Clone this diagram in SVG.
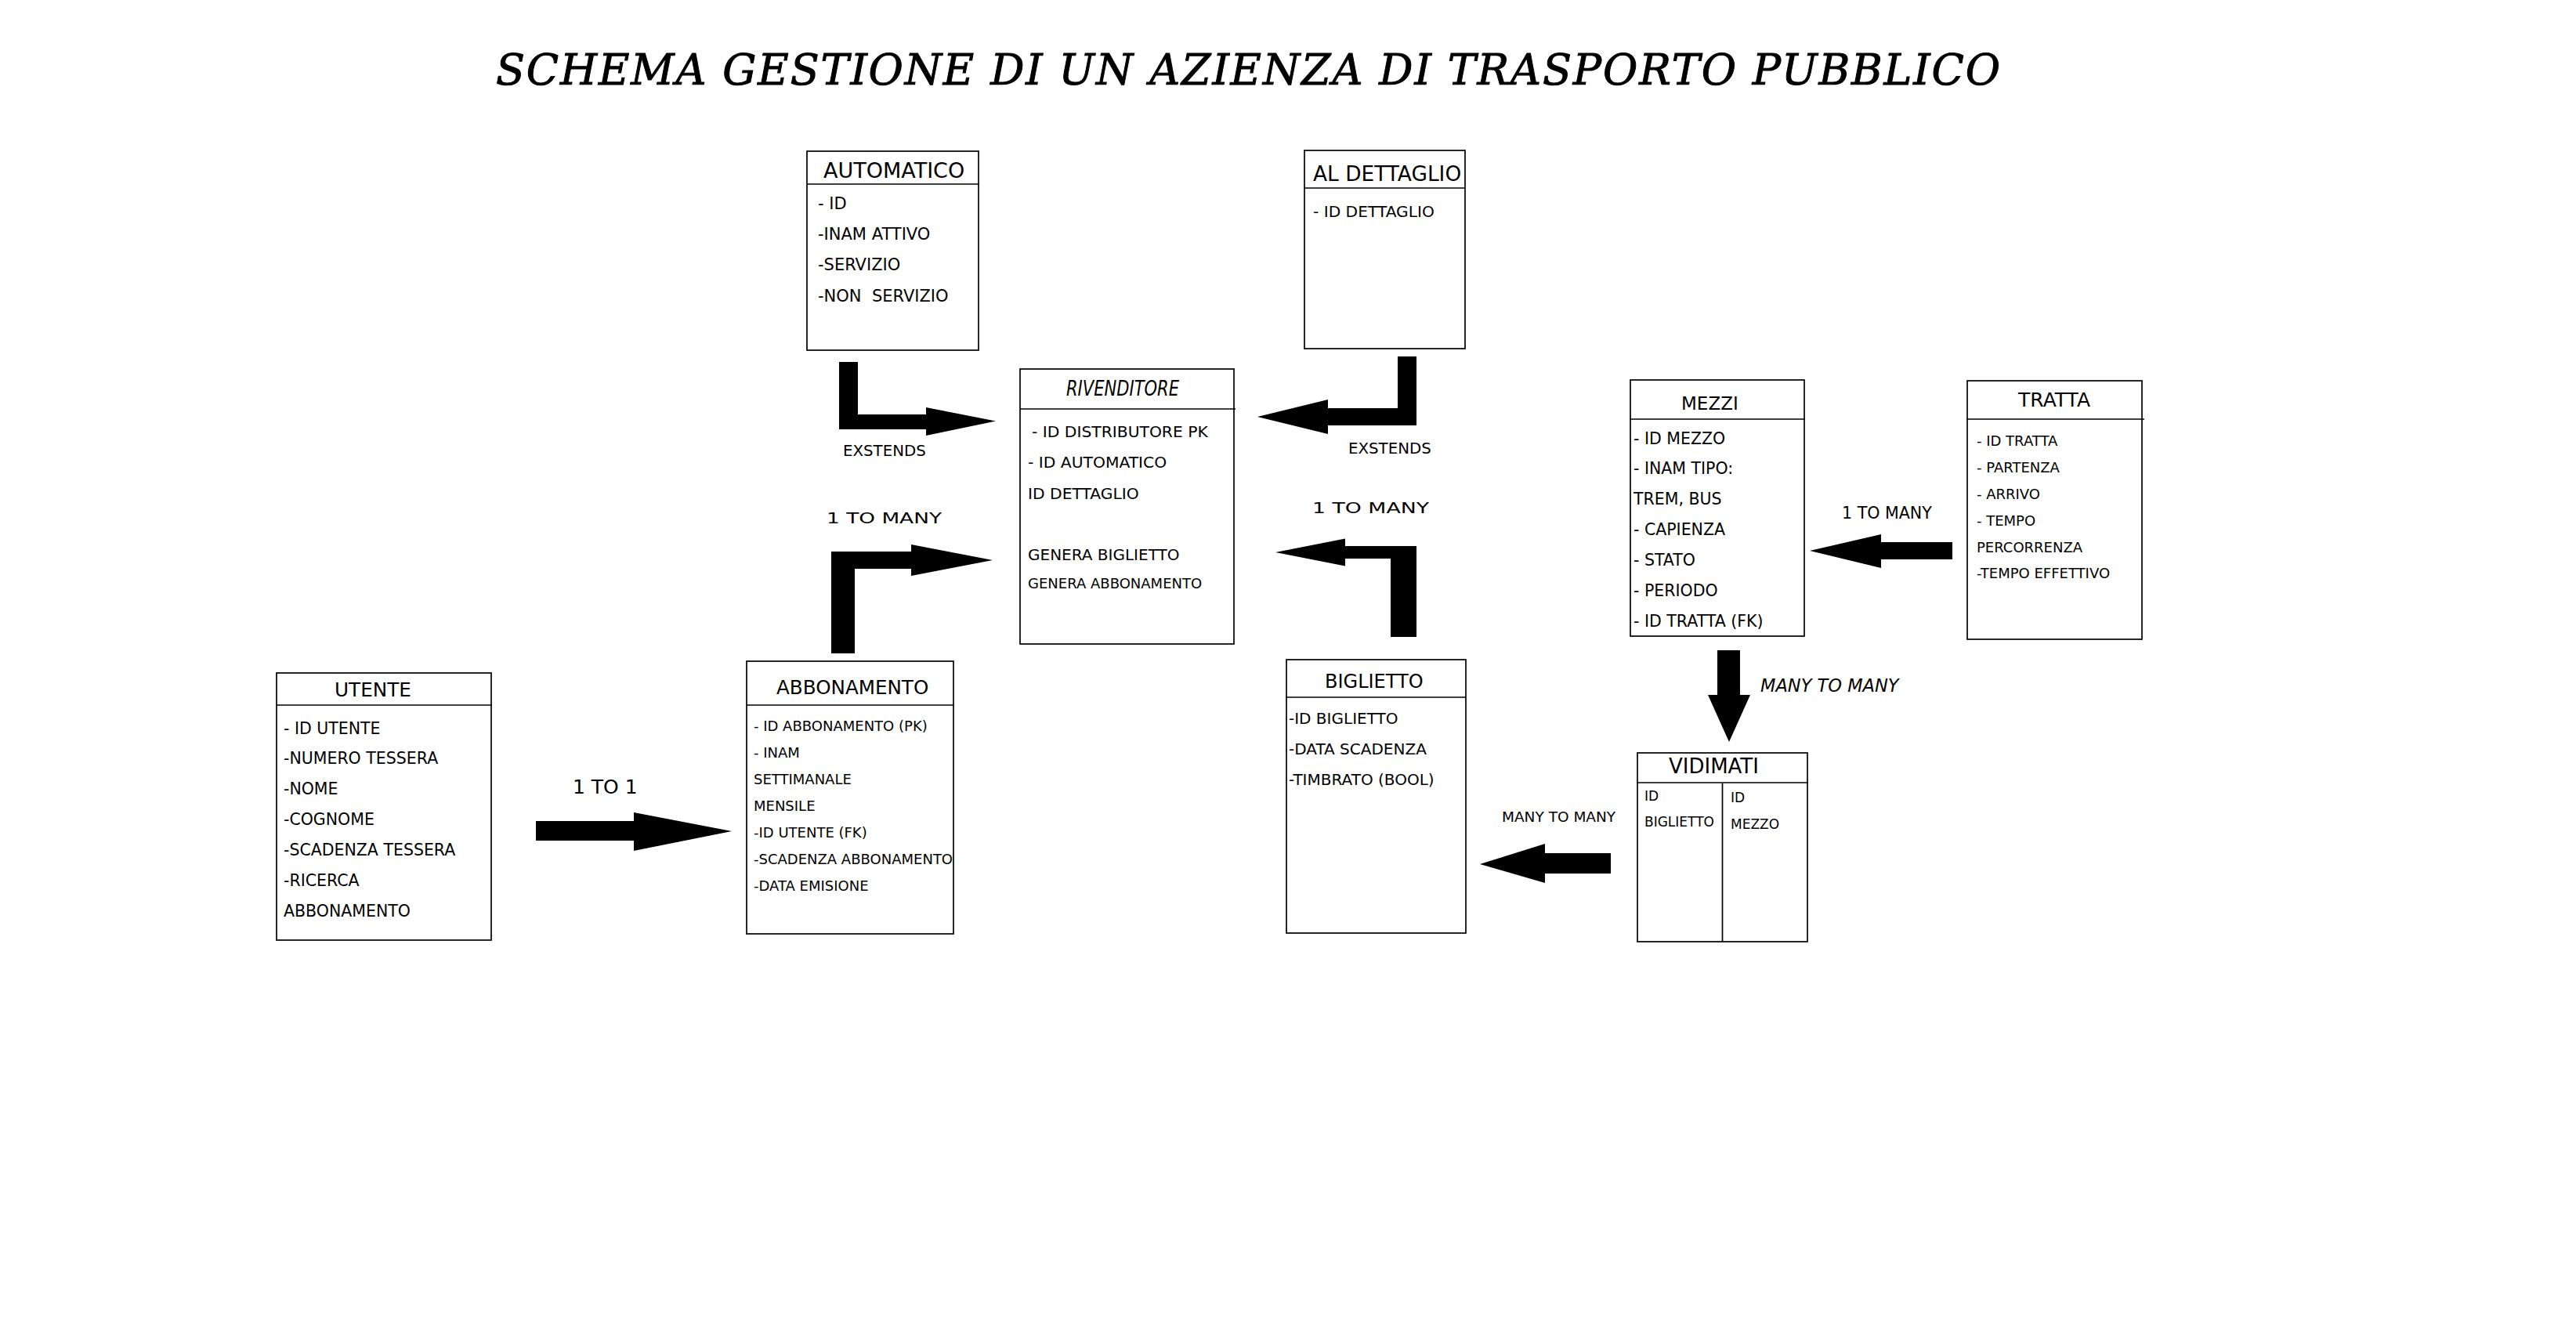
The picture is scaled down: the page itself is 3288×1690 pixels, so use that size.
<svg xmlns="http://www.w3.org/2000/svg" width="3288" height="1690" viewBox="0 0 3288 1690">
<style>
.box{fill:#fff;stroke:#000;stroke-width:1.7}
.ln{stroke:#000;stroke-width:1.7;fill:none}
.t{font-family:"DejaVu Sans","Noto Sans",sans-serif;fill:#000;white-space:pre}
.i{font-size:20.5px}
.s{font-size:18px}
.arr{fill:#000;stroke:none}
.wide{font-family:"DejaVu Sans","Noto Sans",sans-serif;font-size:19px;fill:#000}
</style>
<rect width="3288" height="1690" fill="#fff"/>
<text x="633" y="108" font-family="DejaVu Serif, 'Liberation Serif', serif" font-style="italic" font-size="54" textLength="1920" lengthAdjust="spacing" fill="#000" stroke="#000" stroke-width="1">SCHEMA GESTIONE DI UN AZIENZA DI TRASPORTO PUBBLICO</text>

<g id="automatico">
<rect class="box" x="1030" y="193" width="219" height="254"/>
<line class="ln" x1="1030" y1="235" x2="1249" y2="235"/>
<text class="t" x="1051" y="227" font-size="27">AUTOMATICO</text>
<text class="t" x="1044" y="267" font-size="21">- ID</text>
<text class="t" x="1044" y="306" font-size="21">-INAM ATTIVO</text>
<text class="t" x="1044" y="345" font-size="21">-SERVIZIO</text>
<text class="t" x="1044" y="385" font-size="21">-NON  SERVIZIO</text>
</g>

<g id="al-dettaglio">
<rect class="box" x="1665" y="192" width="205" height="253"/>
<line class="ln" x1="1665" y1="240" x2="1870" y2="240"/>
<text class="t" x="1676" y="231" font-size="26.4">AL DETTAGLIO</text>
<text class="t" x="1676" y="277" font-size="20.2">- ID DETTAGLIO</text>
</g>

<g id="rivenditore">
<rect class="box" x="1302" y="471" width="273" height="351"/>
<line class="ln" x1="1302" y1="522" x2="1577" y2="522"/>
<text x="1361" y="505" font-family="DejaVu Sans, sans-serif" font-style="italic" font-size="27" textLength="144" lengthAdjust="spacingAndGlyphs" fill="#000">RIVENDITORE</text>
<text class="t" x="1317" y="558" font-size="20.3">- ID DISTRIBUTORE PK</text>
<text class="t" x="1312" y="597" font-size="20.3">- ID AUTOMATICO</text>
<text class="t" x="1312" y="637" font-size="20.3">ID DETTAGLIO</text>
<text class="t" x="1312" y="715" font-size="20">GENERA BIGLIETTO</text>
<text class="t" x="1312" y="751" font-size="18">GENERA ABBONAMENTO</text>
</g>

<g id="utente">
<rect class="box" x="353" y="859" width="274" height="341"/>
<line class="ln" x1="353" y1="900" x2="628" y2="900"/>
<text class="t" x="427" y="889" font-size="24.7">UTENTE</text>
<text class="t i" x="362" y="937">- ID UTENTE</text>
<text class="t i" x="362" y="975">-NUMERO TESSERA</text>
<text class="t i" x="362" y="1014">-NOME</text>
<text class="t i" x="362" y="1053">-COGNOME</text>
<text class="t i" x="362" y="1092">-SCADENZA TESSERA</text>
<text class="t i" x="362" y="1131">-RICERCA</text>
<text class="t i" x="362" y="1170">ABBONAMENTO</text>
</g>

<g id="abbonamento">
<rect class="box" x="953" y="844" width="264" height="348"/>
<line class="ln" x1="953" y1="900" x2="1217" y2="900"/>
<text class="t" x="991" y="886" font-size="24.6">ABBONAMENTO</text>
<text class="t s" x="962" y="933">- ID ABBONAMENTO (PK)</text>
<text class="t s" x="962" y="967">- INAM</text>
<text class="t s" x="962" y="1001">SETTIMANALE</text>
<text class="t s" x="962" y="1035">MENSILE</text>
<text class="t s" x="962" y="1069">-ID UTENTE (FK)</text>
<text class="t s" x="962" y="1103">-SCADENZA ABBONAMENTO</text>
<text class="t s" x="962" y="1137">-DATA EMISIONE</text>
</g>

<g id="biglietto">
<rect class="box" x="1642" y="842" width="229" height="349"/>
<line class="ln" x1="1642" y1="890" x2="1871" y2="890"/>
<text class="t" x="1691" y="878" font-size="24">BIGLIETTO</text>
<text class="t" x="1645" y="924" font-size="20">-ID BIGLIETTO</text>
<text class="t" x="1645" y="963" font-size="20">-DATA SCADENZA</text>
<text class="t" x="1645" y="1002" font-size="20">-TIMBRATO (BOOL)</text>
</g>

<g id="mezzi">
<rect class="box" x="2081" y="485" width="222" height="327"/>
<line class="ln" x1="2081" y1="535" x2="2304" y2="535"/>
<text class="t" x="2146" y="523" font-size="23">MEZZI</text>
<text class="t i" x="2085" y="567">- ID MEZZO</text>
<text class="t i" x="2085" y="605">- INAM TIPO:</text>
<text class="t i" x="2085" y="644">TREM, BUS</text>
<text class="t i" x="2085" y="683">- CAPIENZA</text>
<text class="t i" x="2085" y="722">- STATO</text>
<text class="t i" x="2085" y="761">- PERIODO</text>
<text class="t i" x="2085" y="800">- ID TRATTA (FK)</text>
</g>

<g id="tratta">
<rect class="box" x="2511" y="486" width="223" height="330"/>
<line class="ln" x1="2511" y1="535" x2="2737" y2="535"/>
<text class="t" x="2576" y="519" font-size="25">TRATTA</text>
<text class="t s" x="2523" y="569">- ID TRATTA</text>
<text class="t s" x="2523" y="603">- PARTENZA</text>
<text class="t s" x="2523" y="637">- ARRIVO</text>
<text class="t s" x="2523" y="671">- TEMPO</text>
<text class="t s" x="2523" y="705">PERCORRENZA</text>
<text class="t s" x="2523" y="738">-TEMPO EFFETTIVO</text>
</g>

<g id="vidimati">
<rect class="box" x="2090" y="961" width="217" height="241"/>
<line class="ln" x1="2090" y1="999" x2="2308" y2="999"/>
<line class="ln" x1="2198.5" y1="1000" x2="2198.5" y2="1202"/>
<text class="t" x="2130" y="987" font-size="26">VIDIMATI</text>
<text class="t" x="2099" y="1022" font-size="17">ID</text>
<text class="t" x="2099" y="1055" font-size="17">BIGLIETTO</text>
<text class="t" x="2209" y="1024" font-size="17">ID</text>
<text class="t" x="2209" y="1058" font-size="17">MEZZO</text>
</g>

<g id="connectors">
<polygon class="arr" points="1071,462 1095,462 1095,529 1182,529 1182,520 1271,537.5 1182,556 1182,548 1071,548"/>
<text class="t" x="1076" y="582" font-size="19.8">EXSTENDS</text>
<polygon class="arr" points="1808,455 1808,543 1695,543 1695,554 1605,532 1695,510 1695,521 1784,521 1784,455"/>
<text class="t" x="1721" y="579" font-size="19.8">EXSTENDS</text>
<polygon class="arr" points="1061,834 1061,704 1163,704 1163,695 1267,715 1163,735 1163,726 1091,726 1091,834"/>
<text class="wide" x="1055" y="668" textLength="147" lengthAdjust="spacingAndGlyphs">1 TO MANY</text>
<polygon class="arr" points="1808,813 1808,697 1717,697 1717,687.5 1628,705 1717,722.5 1717,713 1775,713 1775,813"/>
<text class="wide" x="1675" y="655" textLength="149" lengthAdjust="spacingAndGlyphs">1 TO MANY</text>
<polygon class="arr" points="684,1048 809,1048 809,1037 934,1061 809,1086 809,1073 684,1073"/>
<text class="t" x="731" y="1013" font-size="25">1 TO 1</text>
<polygon class="arr" points="2492,692 2401,692 2401,682 2310,703 2401,725 2401,714 2492,714"/>
<text class="t" x="2351" y="662" font-size="20.6">1 TO MANY</text>
<polygon class="arr" points="2192,830 2221,830 2221,887 2234,887 2207,947 2180,887 2192,887"/>
<text class="t" x="2247" y="883" font-size="22.5" font-style="italic">MANY TO MANY</text>
<polygon class="arr" points="2056,1089 1972,1089 1972,1077 1889,1103 1972,1127 1972,1115 2056,1115"/>
<text class="t" x="1917" y="1049" font-size="18.5">MANY TO MANY</text>
</g>
</svg>
